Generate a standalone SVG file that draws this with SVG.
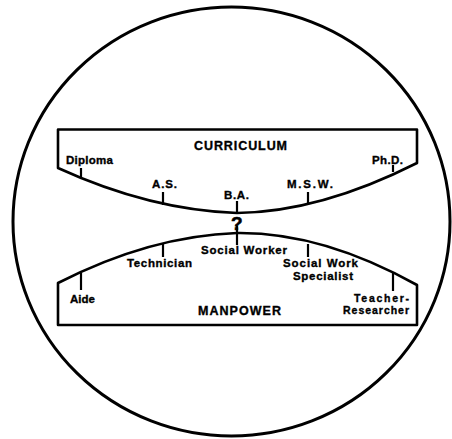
<svg xmlns="http://www.w3.org/2000/svg" width="452" height="439" viewBox="0 0 452 439">
<style>
.bg{fill:#fff}
.rim{fill:none;stroke:#000;stroke-width:3}
.shape{fill:none;stroke:#000;stroke-width:2.6;stroke-linejoin:round}
.tick{stroke:#000;stroke-width:2.2;fill:none}
text{font-family:"Liberation Sans",Arial,sans-serif;font-weight:bold;fill:#000;stroke:#000;stroke-width:0.35}
.lbl{font-size:11.5px}
.sm{font-size:10.5px}
.title{font-size:12.5px}
.q{font-size:19px;stroke-width:0.6}
</style>
<rect class="bg" x="0" y="0" width="452" height="439"/>
<ellipse class="rim" cx="231.5" cy="221.5" rx="218.5" ry="214.5"/>

<g id="curriculum">
  <path class="shape" d="M58,168 L58,129.5 L417,129.5 L417,163 Q320,212 237,213 Q150,210 58,168 Z"/>
  <text class="title" x="194" y="150" textLength="93" lengthAdjust="spacing">CURRICULUM</text>
</g>
<g id="diploma">
  <line class="tick" x1="81" y1="168" x2="81" y2="177"/>
  <text class="lbl" x="66" y="164" textLength="47" lengthAdjust="spacing">Diploma</text>
</g>
<g id="as">
  <line class="tick" x1="163" y1="192" x2="163" y2="205"/>
  <text class="lbl" x="152" y="188" textLength="25" lengthAdjust="spacing">A.S.</text>
</g>
<g id="ba">
  <line class="tick" x1="237" y1="201" x2="237" y2="214"/>
  <text class="lbl" x="224" y="199" textLength="25" lengthAdjust="spacing">B.A.</text>
</g>
<g id="msw">
  <line class="tick" x1="308" y1="192" x2="308" y2="204"/>
  <text class="lbl" x="287" y="188" textLength="46" lengthAdjust="spacing">M.S.W.</text>
</g>
<g id="phd">
  <line class="tick" x1="393" y1="165" x2="393" y2="172"/>
  <text class="lbl" x="372" y="164" textLength="31" lengthAdjust="spacing">Ph.D.</text>
</g>

<g id="manpower">
  <path class="shape" d="M58,283 Q150,236 237,233 Q322,232 417,285 L417,325 L58,325 Z"/>
  <text class="title" x="198" y="315" textLength="83" lengthAdjust="spacing">MANPOWER</text>
</g>
<g id="aide">
  <line class="tick" x1="81" y1="273" x2="81" y2="290"/>
  <text class="lbl" x="70" y="303" textLength="25" lengthAdjust="spacing">Aide</text>
</g>
<g id="technician">
  <line class="tick" x1="163" y1="243" x2="163" y2="257"/>
  <text class="lbl" x="127" y="267" textLength="65" lengthAdjust="spacing">Technician</text>
</g>
<g id="social-worker">
  <line class="tick" x1="237" y1="233" x2="237" y2="245"/>
  <text class="lbl" x="201" y="254" textLength="86" lengthAdjust="spacing">Social Worker</text>
</g>
<g id="social-work-specialist">
  <line class="tick" x1="308" y1="244" x2="308" y2="257"/>
  <text class="lbl" x="283" y="267" textLength="75" lengthAdjust="spacing">Social Work</text>
  <text class="lbl" x="293" y="280" textLength="60" lengthAdjust="spacing">Specialist</text>
</g>
<g id="teacher-researcher">
  <line class="tick" x1="393" y1="273" x2="393" y2="291"/>
  <text class="sm" x="354" y="302" textLength="55" lengthAdjust="spacing">Teacher-</text>
  <text class="sm" x="343" y="314" textLength="66" lengthAdjust="spacing">Researcher</text>
</g>

<g id="connectors">
  <text class="q" x="231" y="230">?</text>
  <line class="tick" x1="237" y1="226" x2="237" y2="234"/>
</g>
</svg>
